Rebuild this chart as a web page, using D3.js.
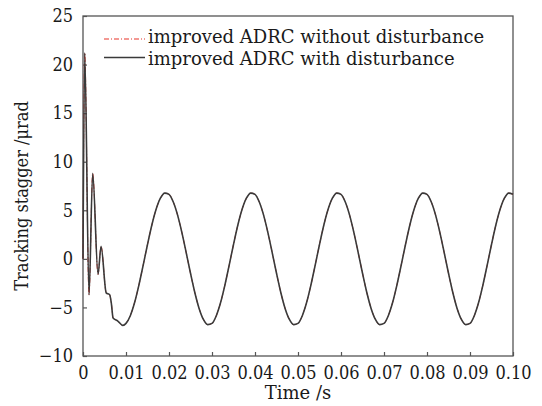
<!DOCTYPE html>
<html>
<head>
<meta charset="utf-8">
<script src="https://cdn.jsdelivr.net/npm/d3@7"></script>
<style>
  html, body { margin: 0; padding: 0; background: #fff; }
  svg { display: block; }
  text { font-family: "DejaVu Serif Condensed", "DejaVu Serif", serif; fill: #1a1a1a; }
  .wide { font-family: "DejaVu Serif", serif; }
</style>
</head>
<body>
<svg id="chart" width="542" height="406"></svg>
<script>
// ---- data ----
const seriesNames = ["improved ADRC without disturbance", "improved ADRC with disturbance"];
const xTicks = [0, 0.01, 0.02, 0.03, 0.04, 0.05, 0.06, 0.07, 0.08, 0.09, 0.10];
const xTickLabels = ["0", "0.01", "0.02", "0.03", "0.04", "0.05", "0.06", "0.07", "0.08", "0.09", "0.10"];
const yTicks = [-10, -5, 0, 5, 10, 15, 20, 25];
const yTickLabels = ["\u221210", "\u22125", "0", "5", "10", "15", "20", "25"];

// time (s)
const time = [
  0, 0.0004, 0.0014, 0.00225, 0.0035, 0.0042, 0.0054, 0.0062, 0.0066, 0.0070, 0.0081, 0.0093,
  0.010, 0.011, 0.012, 0.013, 0.014, 0.015, 0.016, 0.017, 0.018, 0.019,
  0.020, 0.021, 0.022, 0.023, 0.024, 0.025, 0.026, 0.027, 0.028, 0.029,
  0.030, 0.031, 0.032, 0.033, 0.034, 0.035, 0.036, 0.037, 0.038, 0.039,
  0.040, 0.041, 0.042, 0.043, 0.044, 0.045, 0.046, 0.047, 0.048, 0.049,
  0.050, 0.051, 0.052, 0.053, 0.054, 0.055, 0.056, 0.057, 0.058, 0.059,
  0.060, 0.061, 0.062, 0.063, 0.064, 0.065, 0.066, 0.067, 0.068, 0.069,
  0.070, 0.071, 0.072, 0.073, 0.074, 0.075, 0.076, 0.077, 0.078, 0.079,
  0.080, 0.081, 0.082, 0.083, 0.084, 0.085, 0.086, 0.087, 0.088, 0.089,
  0.090, 0.091, 0.092, 0.093, 0.094, 0.095, 0.096, 0.097, 0.098, 0.099,
  0.100
];

// tracking stagger (µrad), with disturbance
const withDisturbance = [
  0, 21.2, -3.7, 8.8, -1.6, 1.3, -3.5, -3.7, -4.6, -6.1, -6.4, -6.85,
  -6.64, -5.85, -4.50, -2.70, -0.64, 1.48, 3.46, 5.10, 6.24, 6.77,
  6.64, 5.85, 4.50, 2.70, 0.64, -1.48, -3.46, -5.10, -6.24, -6.77,
  -6.64, -5.85, -4.50, -2.70, -0.64, 1.48, 3.46, 5.10, 6.24, 6.77,
  6.64, 5.85, 4.50, 2.70, 0.64, -1.48, -3.46, -5.10, -6.24, -6.77,
  -6.64, -5.85, -4.50, -2.70, -0.64, 1.48, 3.46, 5.10, 6.24, 6.77,
  6.64, 5.85, 4.50, 2.70, 0.64, -1.48, -3.46, -5.10, -6.24, -6.77,
  -6.64, -5.85, -4.50, -2.70, -0.64, 1.48, 3.46, 5.10, 6.24, 6.77,
  6.64, 5.85, 4.50, 2.70, 0.64, -1.48, -3.46, -5.10, -6.24, -6.77,
  -6.64, -5.85, -4.50, -2.70, -0.64, 1.48, 3.46, 5.10, 6.24, 6.77,
  6.64
];

// tracking stagger (µrad), without disturbance (lies beneath the other curve)
const withoutDisturbance = [
  0, 21.2, -3.7, 8.8, -1.6, 1.3, -3.5, -3.7, -4.6, -6.1, -6.4, -6.85,
  -6.64, -5.85, -4.50, -2.70, -0.64, 1.48, 3.46, 5.10, 6.24, 6.77,
  6.64, 5.85, 4.50, 2.70, 0.64, -1.48, -3.46, -5.10, -6.24, -6.77,
  -6.64, -5.85, -4.50, -2.70, -0.64, 1.48, 3.46, 5.10, 6.24, 6.77,
  6.64, 5.85, 4.50, 2.70, 0.64, -1.48, -3.46, -5.10, -6.24, -6.77,
  -6.64, -5.85, -4.50, -2.70, -0.64, 1.48, 3.46, 5.10, 6.24, 6.77,
  6.64, 5.85, 4.50, 2.70, 0.64, -1.48, -3.46, -5.10, -6.24, -6.77,
  -6.64, -5.85, -4.50, -2.70, -0.64, 1.48, 3.46, 5.10, 6.24, 6.77,
  6.64, 5.85, 4.50, 2.70, 0.64, -1.48, -3.46, -5.10, -6.24, -6.77,
  -6.64, -5.85, -4.50, -2.70, -0.64, 1.48, 3.46, 5.10, 6.24, 6.77,
  6.64
];

// ---- layout ----
const W = 542, H = 406;
const margin = { left: 83, right: 29, top: 16, bottom: 50 };
const pw = W - margin.left - margin.right;
const ph = H - margin.top - margin.bottom;

const svg = d3.select("#chart");
const g = svg.append("g").attr("transform", `translate(${margin.left},${margin.top})`);

const x = d3.scaleLinear().domain([0, 0.10]).range([0, pw]);
const y = d3.scaleLinear().domain([-10, 25]).range([ph, 0]);

const frameColor = "#555";

// frame
g.append("rect").attr("x", 0).attr("y", 0).attr("width", pw).attr("height", ph)
  .attr("fill", "none").attr("stroke", frameColor).attr("stroke-width", 1.3);

// bottom axis (inward ticks)
const xAxis = d3.axisBottom(x).tickValues(xTicks)
  .tickFormat((d, i) => xTickLabels[i]).tickSizeInner(-4).tickSizeOuter(0).tickPadding(10);
const gx = g.append("g").attr("transform", `translate(0,${ph})`).call(xAxis);
gx.select(".domain").remove();
gx.selectAll(".tick line").attr("stroke", frameColor).attr("stroke-width", 1.2);
gx.selectAll(".tick text").style("font-size", "18px").attr("fill", "#1a1a1a");

// left axis (inward ticks)
const yAxis = d3.axisLeft(y).tickValues(yTicks)
  .tickFormat((d, i) => yTickLabels[i]).tickSizeInner(-4).tickSizeOuter(0).tickPadding(10);
const gy = g.append("g").call(yAxis);
gy.select(".domain").remove();
gy.selectAll(".tick line").attr("stroke", frameColor).attr("stroke-width", 1.2);
gy.selectAll(".tick text").style("font-size", "18px").attr("fill", "#1a1a1a");

// curves
const pts = (vals) => time.map((t, i) => [t, vals[i]]);
const line = d3.line().x(d => x(d[0])).y(d => y(d[1])).curve(d3.curveMonotoneX);

g.append("path").datum(pts(withoutDisturbance)).attr("d", line)
  .attr("fill", "none").attr("stroke", "#e8352b").attr("stroke-width", 1.0)
  .attr("stroke-dasharray", "5,2,1,2");
g.append("path").datum(pts(withDisturbance)).attr("d", line)
  .attr("fill", "none").attr("stroke", "#3a3a3a").attr("stroke-width", 1.6);

// legend
const legend = g.append("g");
const legendStyles = [
  { stroke: "#e8352b", dash: "5,2,1,2", w: 1.2, ly: 23, ty: 27 },
  { stroke: "#3a3a3a", dash: null, w: 1.4, ly: 41.5, ty: 48.5 }
];
seriesNames.forEach((name, i) => {
  const s = legendStyles[i];
  legend.append("line").attr("x1", 21).attr("x2", 62).attr("y1", s.ly).attr("y2", s.ly)
    .attr("stroke", s.stroke).attr("stroke-width", s.w)
    .attr("stroke-dasharray", s.dash);
  legend.append("text").attr("class", "wide").attr("x", 65).attr("y", s.ty)
    .style("font-size", "18px").text(name);
});

// axis titles
svg.append("text").attr("class", "wide").attr("x", margin.left + pw / 2).attr("y", 399)
  .attr("text-anchor", "middle").style("font-size", "18px").text("Time /s");
svg.append("text").attr("transform", `translate(28,196) rotate(-90)`)
  .attr("text-anchor", "middle").style("font-size", "18px").text("Tracking stagger /\u03bcrad");
</script>
</body>
</html>
